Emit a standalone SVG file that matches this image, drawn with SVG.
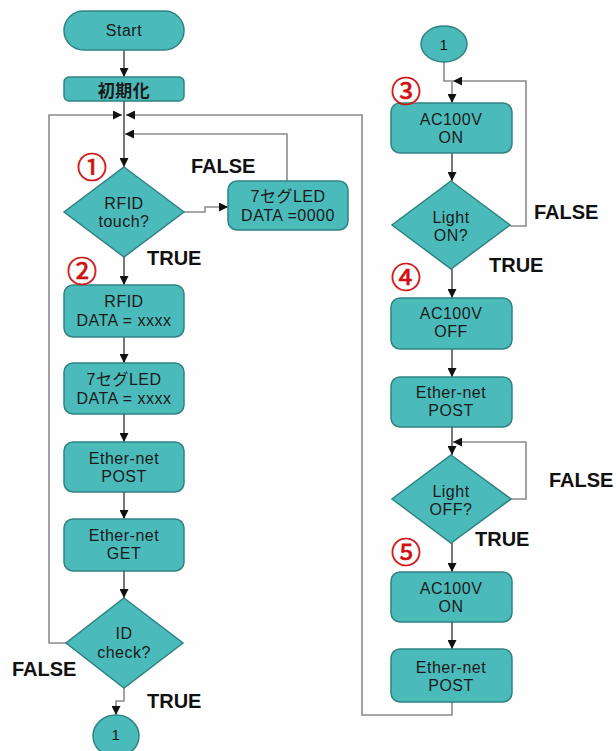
<svg xmlns="http://www.w3.org/2000/svg" width="616" height="751" viewBox="0 0 616 751">
<style>
.box{fill:#4bbaba;stroke:#2f8383;stroke-width:1.5}
.t{font-family:"Liberation Sans",Arial,sans-serif;font-size:16px;letter-spacing:0.5px;fill:#1a1a1a;text-anchor:middle;dominant-baseline:central}
.b{font-family:"Liberation Sans","Noto Sans CJK JP",sans-serif;font-weight:bold;font-size:20px;fill:#111}
.n{font-family:"Noto Sans CJK JP","Liberation Serif",serif;font-size:30px;fill:#d01010;stroke:#d01010;stroke-width:0.7;text-anchor:middle;dominant-baseline:central}
.m{fill:none;stroke:#555;stroke-width:1.6}
.g{fill:none;stroke:#8c8c8c;stroke-width:1.6}
</style>
<defs>
<marker id="ah" viewBox="0 0 10 10" refX="10" refY="5" markerWidth="9" markerHeight="9" markerUnits="userSpaceOnUse" orient="auto">
<path d="M0,0 L10,5 L0,10 z" fill="#111"/>
</marker>
</defs>
<rect width="616" height="751" fill="#fefefe"/>
<g id="connectors">
<path class="m" d="M124,50 V77" marker-end="url(#ah)"/>
<path class="m" d="M124,101 V167" marker-end="url(#ah)"/>
<path class="m" d="M124,257 V285" marker-end="url(#ah)"/>
<path class="m" d="M124,337 V363" marker-end="url(#ah)"/>
<path class="m" d="M124,414 V442" marker-end="url(#ah)"/>
<path class="m" d="M124,492 V519" marker-end="url(#ah)"/>
<path class="m" d="M124,571 V598" marker-end="url(#ah)"/>
<path class="g" d="M183,212 H205 V207 H228" marker-end="url(#ah)"/>
<path class="g" d="M287,181 V134 H125" marker-end="url(#ah)"/>
<path class="g" d="M66,643 H49 V115 H122" marker-end="url(#ah)"/>
<path class="g" d="M452,702 V715 H362 V115 H126" marker-end="url(#ah)"/>
<path class="g" d="M124,688 V701 H116 V715" marker-end="url(#ah)"/>
<path class="g" d="M444,62 V81 H452 V103" marker-end="url(#ah)"/>
<path class="g" d="M510,226 H526 V81 H453" marker-end="url(#ah)"/>
<path class="m" d="M452,153 V181" marker-end="url(#ah)"/>
<path class="m" d="M452,269 V298" marker-end="url(#ah)"/>
<path class="m" d="M452,349 V377" marker-end="url(#ah)"/>
<path class="m" d="M452,427 V455" marker-end="url(#ah)"/>
<path class="g" d="M511,499 H526 V442 H453" marker-end="url(#ah)"/>
<path class="m" d="M452,543 V572" marker-end="url(#ah)"/>
<path class="m" d="M452,622 V649" marker-end="url(#ah)"/>
</g>
<g id="start"><rect class="box" x="64" y="11" width="120" height="39" rx="19.5"/><text class="t" x="124" y="30.5">Start</text></g>
<g id="init"><rect class="box" x="64" y="77" width="120" height="24" rx="5"/><text class="t" x="124" y="89" style="font-weight:bold;font-family:'Noto Sans CJK JP',sans-serif;font-size:17px">初期化</text></g>
<g id="rfid-touch"><polygon class="box" points="124,167 184,212 124,257 64,212"/><text class="t" x="124" y="203">RFID</text><text class="t" x="124" y="221">touch?</text></g>
<g id="seg-0000"><rect class="box" x="228" y="181" width="120" height="49" rx="9"/><text class="t" x="288" y="196" style="font-family:'Liberation Sans','Noto Sans CJK JP',sans-serif">7セグLED</text><text class="t" x="288" y="215">DATA =0000</text></g>
<g id="rfid-data"><rect class="box" x="64" y="285" width="120" height="52" rx="9"/><text class="t" x="124" y="301">RFID</text><text class="t" x="124" y="320">DATA = xxxx</text></g>
<g id="seg-xxxx"><rect class="box" x="64" y="363" width="120" height="51" rx="9"/><text class="t" x="124" y="379" style="font-family:'Liberation Sans','Noto Sans CJK JP',sans-serif">7セグLED</text><text class="t" x="124" y="398">DATA = xxxx</text></g>
<g id="post1"><rect class="box" x="64" y="442" width="120" height="50" rx="9"/><text class="t" x="124" y="458">Ether-net</text><text class="t" x="124" y="476">POST</text></g>
<g id="get"><rect class="box" x="64" y="519" width="120" height="52" rx="9"/><text class="t" x="124" y="535">Ether-net</text><text class="t" x="124" y="553">GET</text></g>
<g id="id-check"><polygon class="box" points="124,598 183,643 124,688 66,643"/><text class="t" x="124" y="633">ID</text><text class="t" x="124" y="652">check?</text></g>
<g id="conn-out"><ellipse class="box" cx="116" cy="736" rx="23" ry="21"/><text class="t" x="116" y="734" style="font-size:15px">1</text></g>
<g id="conn-in"><ellipse class="box" cx="444" cy="44" rx="23" ry="18"/><text class="t" x="444" y="44" style="font-size:15px">1</text></g>
<g id="ac-on1"><rect class="box" x="391" y="103" width="121" height="50" rx="9"/><text class="t" x="451" y="119">AC100V</text><text class="t" x="451" y="137">ON</text></g>
<g id="light-on"><polygon class="box" points="451,181 510,225 451,269 392,225"/><text class="t" x="451" y="217">Light</text><text class="t" x="451" y="235">ON?</text></g>
<g id="ac-off"><rect class="box" x="391" y="298" width="121" height="51" rx="9"/><text class="t" x="451" y="313">AC100V</text><text class="t" x="451" y="331">OFF</text></g>
<g id="post2"><rect class="box" x="391" y="377" width="121" height="50" rx="9"/><text class="t" x="451" y="392">Ether-net</text><text class="t" x="451" y="410">POST</text></g>
<g id="light-off"><polygon class="box" points="451,455 511,499 451,543 392,499"/><text class="t" x="451" y="491">Light</text><text class="t" x="451" y="509">OFF?</text></g>
<g id="ac-on2"><rect class="box" x="391" y="572" width="121" height="50" rx="9"/><text class="t" x="451" y="588">AC100V</text><text class="t" x="451" y="606">ON</text></g>
<g id="post3"><rect class="box" x="391" y="649" width="121" height="53" rx="9"/><text class="t" x="451" y="667">Ether-net</text><text class="t" x="451" y="685">POST</text></g>
<g id="labels">
<text class="b" x="191" y="173">FALSE</text>
<text class="b" x="147" y="265">TRUE</text>
<text class="b" x="12" y="676">FALSE</text>
<text class="b" x="147" y="708">TRUE</text>
<text class="b" x="534" y="219">FALSE</text>
<text class="b" x="489" y="272">TRUE</text>
<text class="b" x="549" y="487">FALSE</text>
<text class="b" x="475" y="546">TRUE</text>
<text class="n" x="92" y="165">①</text>
<text class="n" x="82" y="269">②</text>
<text class="n" x="406" y="89">③</text>
<text class="n" x="406" y="275">④</text>
<text class="n" x="406" y="550">⑤</text>
</g>
</svg>
